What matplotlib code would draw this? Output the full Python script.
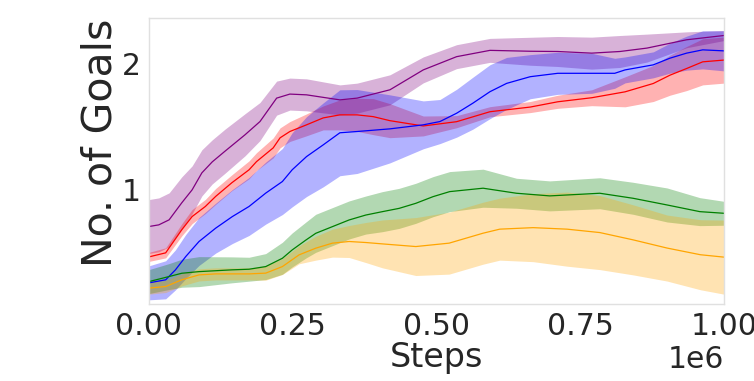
import numpy as np
import matplotlib
matplotlib.use("Agg")
import matplotlib.pyplot as plt

# ---- data (x as fraction of 1e6 steps, y = No. of Goals) ----
purple_x = [0.000, 0.017, 0.035, 0.057, 0.075, 0.092, 0.110, 0.132, 0.167, 0.193, 0.222, 0.245,
            0.274, 0.332, 0.362, 0.419, 0.477, 0.535, 0.593, 0.663, 0.711, 0.770, 0.819, 0.866,
            0.935, 1.000]
purple_mean = [0.705, 0.718, 0.758, 0.893, 0.996, 1.131, 1.218, 1.302, 1.433, 1.538, 1.724, 1.756,
               1.750, 1.710, 1.724, 1.790, 1.948, 2.053, 2.103, 2.096, 2.094, 2.081, 2.094, 2.121,
               2.187, 2.221]
purple_std = [0.214, 0.214, 0.214, 0.206, 0.190, 0.183, 0.175, 0.175, 0.167, 0.151, 0.135, 0.127,
              0.127, 0.119, 0.119, 0.119, 0.103, 0.095, 0.095, 0.111, 0.119, 0.127, 0.127, 0.111,
              0.063, 0.040]

red_x = [0.000, 0.029, 0.057, 0.075, 0.098, 0.116, 0.144, 0.174, 0.187, 0.216, 0.228, 0.245,
         0.274, 0.303, 0.332, 0.362, 0.390, 0.419, 0.477, 0.535, 0.593, 0.663, 0.711, 0.770,
         0.828, 0.877, 0.906, 0.935, 0.963, 1.000]
red_mean = [0.464, 0.496, 0.679, 0.784, 0.864, 0.944, 1.052, 1.155, 1.220, 1.329, 1.409, 1.459,
            1.512, 1.567, 1.591, 1.591, 1.577, 1.545, 1.503, 1.537, 1.616, 1.653, 1.695, 1.727,
            1.774, 1.840, 1.906, 1.959, 2.012, 2.026]
red_std = [0.036, 0.040, 0.048, 0.056, 0.056, 0.063, 0.063, 0.071, 0.071, 0.079, 0.079, 0.079,
           0.087, 0.095, 0.119, 0.131, 0.143, 0.135, 0.079, 0.048, 0.040, 0.044, 0.052, 0.063,
           0.119, 0.143, 0.159, 0.175, 0.183, 0.183]

blue_x = [0.000, 0.029, 0.046, 0.064, 0.087, 0.116, 0.145, 0.174, 0.203, 0.232, 0.249, 0.274,
          0.303, 0.332, 0.362, 0.419, 0.477, 0.506, 0.535, 0.563, 0.593, 0.622, 0.663, 0.711,
          0.770, 0.810, 0.828, 0.877, 0.906, 0.935, 0.963, 1.000]
blue_mean = [0.258, 0.282, 0.361, 0.467, 0.586, 0.692, 0.784, 0.864, 0.970, 1.062, 1.155, 1.260,
             1.353, 1.449, 1.459, 1.480, 1.512, 1.538, 1.604, 1.683, 1.775, 1.841, 1.894, 1.921,
             1.921, 1.921, 1.948, 1.988, 2.041, 2.081, 2.107, 2.099]
blue_std = [0.135, 0.151, 0.159, 0.175, 0.190, 0.198, 0.214, 0.230, 0.246, 0.262, 0.294, 0.317,
            0.333, 0.341, 0.333, 0.270, 0.190, 0.175, 0.190, 0.206, 0.214, 0.206, 0.175, 0.167,
            0.159, 0.119, 0.103, 0.103, 0.119, 0.135, 0.151, 0.159]

green_x = [0.000, 0.035, 0.057, 0.087, 0.144, 0.174, 0.203, 0.232, 0.249, 0.273, 0.290, 0.319,
           0.348, 0.377, 0.406, 0.435, 0.464, 0.494, 0.523, 0.581, 0.639, 0.697, 0.784, 0.842,
           0.901, 0.958, 1.000]
green_mean = [0.268, 0.308, 0.334, 0.347, 0.361, 0.366, 0.387, 0.453, 0.519, 0.598, 0.651, 0.704,
              0.757, 0.796, 0.823, 0.849, 0.889, 0.942, 0.982, 1.009, 0.969, 0.948, 0.969, 0.929,
              0.876, 0.823, 0.810]
green_std = [0.095, 0.103, 0.111, 0.119, 0.103, 0.095, 0.103, 0.127, 0.135, 0.143, 0.151, 0.151,
             0.151, 0.151, 0.159, 0.159, 0.159, 0.159, 0.159, 0.151, 0.119, 0.119, 0.123, 0.127,
             0.135, 0.111, 0.095]

orange_x = [0.000, 0.029, 0.057, 0.087, 0.116, 0.174, 0.203, 0.232, 0.261, 0.290, 0.319, 0.348,
            0.377, 0.406, 0.464, 0.522, 0.581, 0.610, 0.668, 0.727, 0.784, 0.842, 0.901, 0.959,
            1.000]
orange_mean = [0.216, 0.229, 0.282, 0.321, 0.329, 0.329, 0.335, 0.387, 0.480, 0.533, 0.573, 0.586,
               0.578, 0.567, 0.546, 0.573, 0.652, 0.684, 0.696, 0.684, 0.657, 0.599, 0.534, 0.481,
               0.462]
orange_std = [0.048, 0.048, 0.048, 0.048, 0.048, 0.048, 0.056, 0.063, 0.071, 0.095, 0.111, 0.127,
              0.159, 0.190, 0.230, 0.246, 0.246, 0.246, 0.270, 0.294, 0.294, 0.278, 0.262, 0.278,
              0.294]

series = [
    ("purple", purple_x, purple_mean, purple_std),
    ("red", red_x, red_mean, red_std),
    ("blue", blue_x, blue_mean, blue_std),
    ("green", green_x, green_mean, green_std),
    ("orange", orange_x, orange_mean, orange_std),
]

x_ticks = [0.0, 0.25e6, 0.5e6, 0.75e6, 1.0e6]
y_ticks = [1, 2]

fig = plt.figure(figsize=(7.54, 3.81), dpi=100)
ax = fig.add_axes([0.1976, 0.2021, 0.7626, 0.7507])

for color, xs, m, s in series:
    steps = np.array(xs) * 1e6
    m = np.array(m)
    s = np.array(s)
    ax.fill_between(steps, m - s, m + s, color=color, alpha=0.3, linewidth=0)
    ax.plot(steps, m, color=color, linewidth=0.9)

ax.set_xlim(0, 1e6)
ax.set_ylim(0.09, 2.36)
ax.set_xticks(x_ticks)
ax.set_yticks(y_ticks)

for sp in ax.spines.values():
    sp.set_color("#e0e0e0")
    sp.set_linewidth(1.0)

ax.tick_params(length=0, labelsize=21.5, labelcolor="#262626", pad=6)
ax.xaxis.get_offset_text().set_fontsize(21.5)
ax.xaxis.get_offset_text().set_color("#262626")
ax.set_xlabel("Steps", fontsize=24, color="#262626")
ax.xaxis.set_label_coords(0.5, -0.128)
ax.set_ylabel("No. of Goals", fontsize=29.5, color="#262626")
ax.yaxis.set_label_coords(-0.05, 0.565)

fig.savefig("out.png", dpi=100)
